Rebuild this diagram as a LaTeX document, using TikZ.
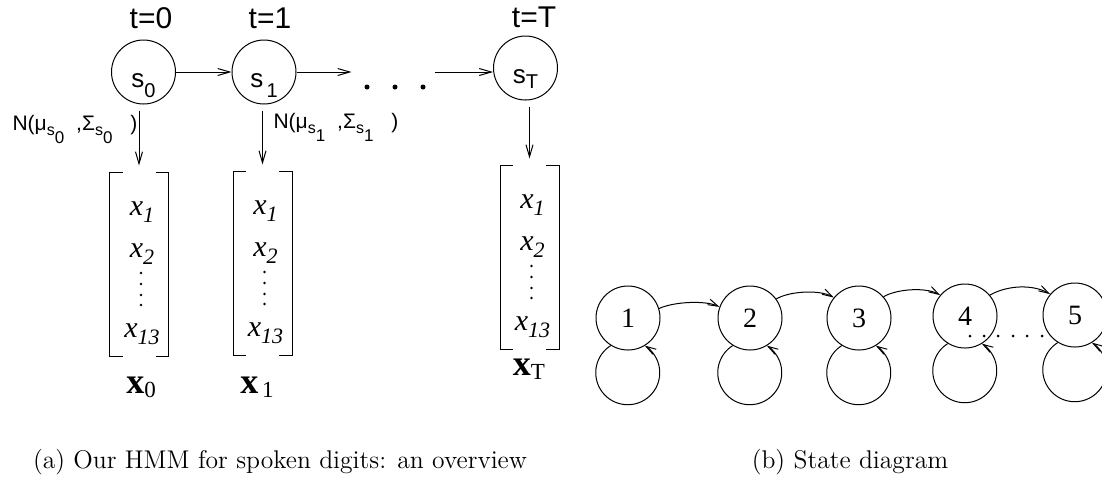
\documentclass[tikz,border=0pt]{standalone}
\usepackage{fontspec}
\setsansfont{Liberation Sans}
\newfontfamily\timesfont{Liberation Serif}
\usetikzlibrary{arrows.meta}

\newcommand\stlab[2]{\raisebox{-7.5pt}[0pt][0pt]{s\raisebox{-#1}{\fontsize{10}{10}\selectfont #2}}}
\newcommand\nsub[1]{\raisebox{-2.5pt}{\fontsize{8}{8}\selectfont s}\raisebox{-6.5pt}{\fontsize{8.5}{8.5}\selectfont #1}}
\newcommand\xent[1]{{\timesfont\itshape\fontsize{15}{15}\selectfont x\raisebox{-3.5pt}{\fontsize{11}{11}\selectfont #1}}}
\newcommand\xlab[1]{{\timesfont\fontsize{18}{18}\selectfont\textbf{x}\raisebox{-2pt}{\fontsize{11.5}{11.5}\selectfont #1}}}

\begin{document}
\begin{tikzpicture}[x=0.5pt, y=-0.5pt, line width=0.5pt,
    state/.style={circle, draw, minimum size=32pt, inner sep=0pt, font=\sffamily\fontsize{13}{13}\selectfont},
    num/.style={circle, draw, minimum size=32pt, inner sep=0pt, font=\timesfont\fontsize{14}{14}\selectfont},
    tlab/.style={anchor=base, inner sep=0pt, font=\sffamily\fontsize{15}{15}\selectfont},
    nlab/.style={anchor=base west, inner sep=0pt, font=\sffamily\fontsize{10.5}{10.5}\selectfont},
    vecbox/.style={minimum width=29pt, minimum height=91.5pt, inner sep=0pt},
    entry/.style={anchor=base, inner sep=0pt},
    link/.style={-{Straight Barb[length=6pt,width=3.5pt]}},
    trans/.style={-{Straight Barb[length=5pt,width=3pt]}},
    caption/.style={anchor=base, inner sep=0pt, font=\fontsize{12.8}{14}\selectfont}]
    \useasboundingbox (0,0) rectangle (1102,479);

    % States over time
    \node[state] (s0) at (143.5,72) {\stlab{5pt}{0}};
    \node[state] (s1) at (264,72) {\stlab{5pt}{\,1}};
    \node[state] (sT) at (525.5,68) {\stlab{2.5pt}{T}};
    \node[inner sep=0pt, minimum width=41pt] (gap) at (393,72) {};
    \foreach \d in {-26,2,30}
        \fill ([xshift=\d*0.5pt, yshift=-7.5pt]gap.center) circle (1.25pt);

    % Time labels
    \node[tlab] (t0) at (151,28) {t=0};
    \node[tlab] (t1) at (270,28) {t=1};
    \node[tlab] (tT) at (534,27) {t=T};

    % Transitions
    \draw[link] (s0) -- (s1);
    \draw[link] (s1.east) -- (gap.west);
    \draw[link] (gap.east) -- (gap.east -| sT.west);

    % Observation vectors
    \foreach \n/\cx/\ty in {0/139/173, 1/262.5/172, T/529.5/166} {
        \node[vecbox] (v\n) at (\cx,\ty+91.5) {};
        \draw ([xshift=6.5pt]v\n.north west) -| (v\n.south west) -- ++(6.5pt,0);
        \draw ([xshift=-6.5pt]v\n.north east) -| (v\n.south east) -- ++(-6.5pt,0);
        \node[entry] (v\n-a) at (\cx+3,\ty+42) {\xent{1}};
        \node[entry] (v\n-b) at (\cx+3,\ty+84) {\xent{2}};
        \node[entry] (v\n-c) at (\cx+3,\ty+164) {\xent{13}};
        \foreach \d in {100,111,122,132}
            \fill (\cx+2,\ty+\d) circle (0.7pt);
        \draw[link, shorten <=3pt, shorten >=3.5pt] (s\n.south -| v\n.north) -- (v\n.north);
    }

    % Emission labels
    \node[nlab] (n0) at (12,130) {N(μ\nsub{0}\hspace{6pt},Σ\nsub{0}\hspace{9pt})};
    \node[nlab] (n1) at (273,128) {N(μ\nsub{1}\hspace{6pt},Σ\nsub{1}\hspace{9pt})};

    \node[entry] (x0) at (141,393) {\xlab{0}};
    \node[entry] (x1) at (257,393) {\xlab{\,1}};
    \node[entry] (xT) at (529,375) {\xlab{T}};

    % State diagram
    \node[num] (q1) at (628,318) {1};
    \node[num] (q2) at (750,318) {2};
    \node[num] (q3) at (859,318) {3};
    \node[num] (q4) at (965,316) {4};
    \node[num] (q5) at (1075,315) {5};
    \foreach \i in {1,...,5}
        \draw[trans] (q\i.238) arc[start angle=122, end angle=418, radius=16pt];
    \draw[trans] (q1.17) .. controls +(25:8pt) and +(155:8pt) .. (q2.160);
    \draw[trans] (q2.36) .. controls +(30:8pt) and +(150:8pt) .. (q3.141);
    \draw[trans] (q3.41) .. controls +(30:8pt) and +(150:8pt) .. (q4.140);
    \draw[trans] (q4.40) .. controls +(30:10pt) and +(150:10pt) .. (q5.140);
    \foreach \d in {970,984,998,1013,1027,1042}
        \fill (\d,336) circle (0.75pt);

    % Captions
    \node[caption] (capa) at (280,468) {(a) Our HMM for spoken digits: an overview};
    \node[caption] (capb) at (850,468) {(b) State diagram};
\end{tikzpicture}
\end{document}
